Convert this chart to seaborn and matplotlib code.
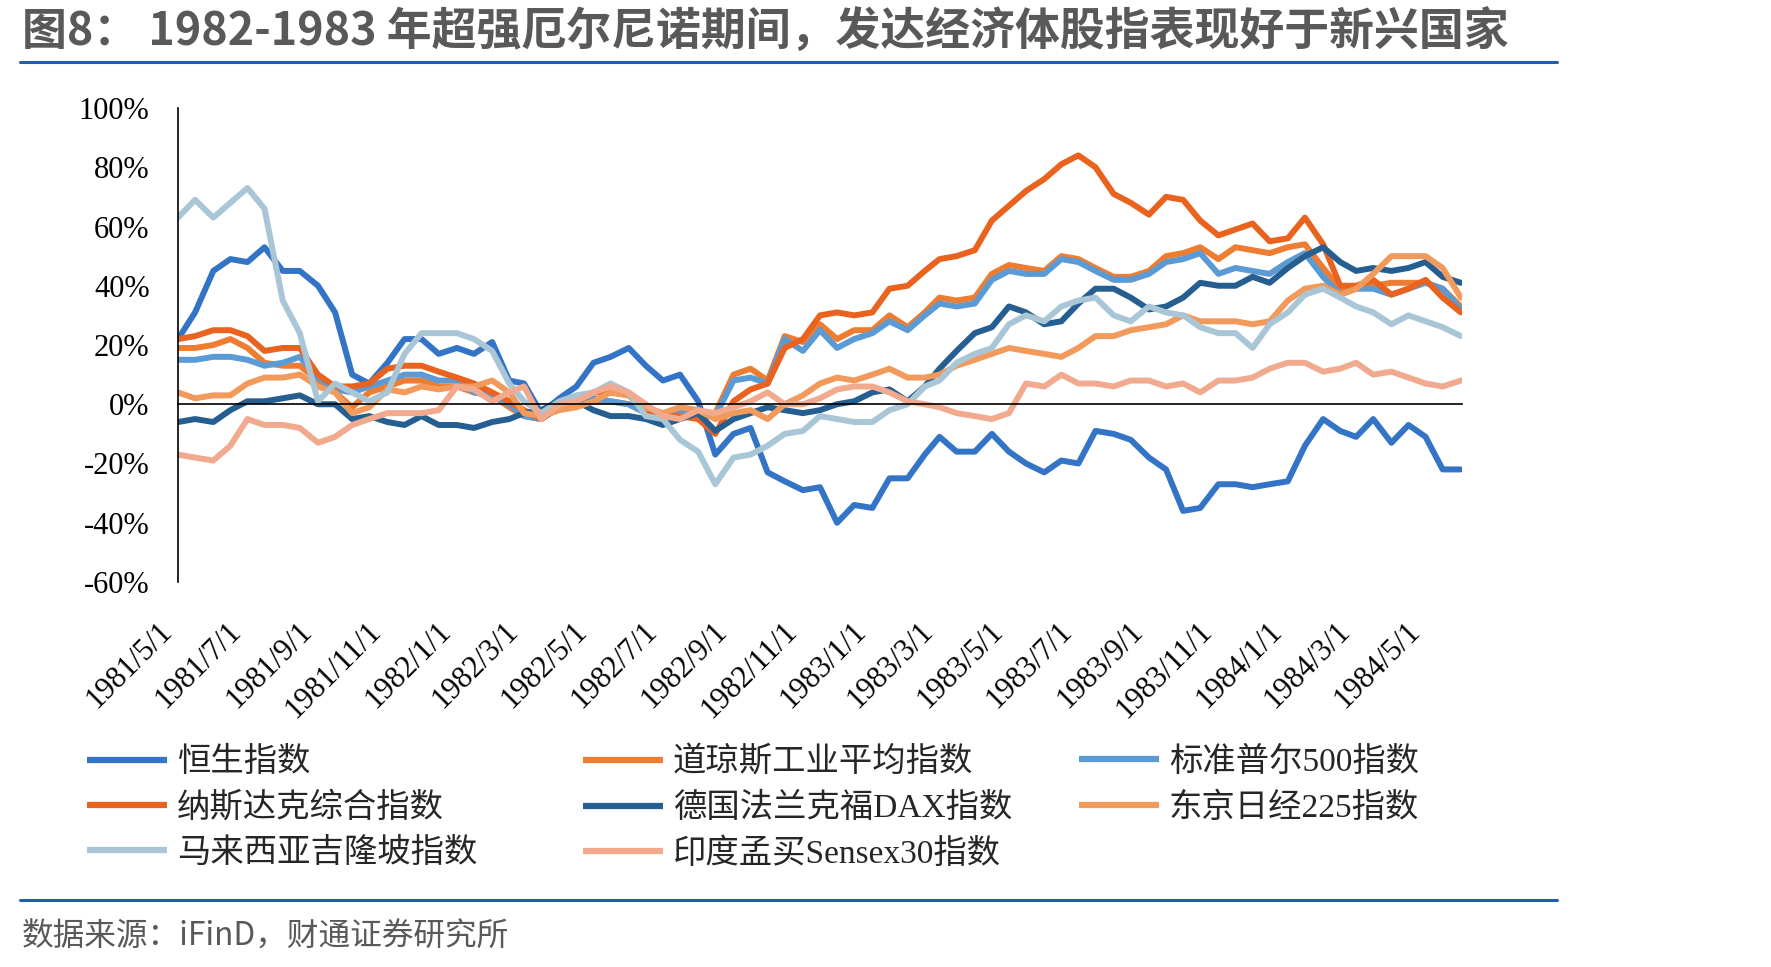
import numpy as np
import pandas as pd
import matplotlib
matplotlib.use("Agg")
import matplotlib.pyplot as plt
import matplotlib.dates as mdates
from matplotlib.lines import Line2D
import seaborn as sns

# ---------------- data (percent change) ----------------
# semi-monthly sampling grid: 1st and 16th of each month, 1981-05-01 .. 1984-06-01
grid_dates = []
for y in range(1981, 1985):
    for m in range(1, 13):
        for dd in (1, 16):
            ds = pd.Timestamp(year=y, month=m, day=dd)
            if pd.Timestamp("1981-05-01") <= ds <= pd.Timestamp("1984-06-01"):
                grid_dates.append(ds)

hang_seng = [22, 31, 45, 49, 48, 53, 45, 45, 40, 31, 10, 7, 14, 22, 22, 17, 19, 17, 21, 8, 7, -3, 2, 6, 14, 16,
             19, 13, 8, 10, 1, -17, -10, -8, -23, -26, -29, -28, -40, -34, -35, -25, -25, -17, -11, -16, -16, -10, -16, -20, -23,
             -19, -20, -9, -10, -12, -18, -22, -36, -35, -27, -27, -28, -27, -26, -14, -5, -9, -11, -5, -13, -7, -11, -22, -22]
dow_jones = [19, 19, 20, 22, 19, 14, 13, 13, 8, 4, -1, 4, 6, 8, 8, 6, 6, 4, 3, -1, -4, -5, -1, 0, 1, 1,
             0, -3, -4, -1, -3, -3, 10, 12, 8, 23, 21, 27, 22, 25, 25, 30, 26, 31, 36, 35, 36, 44, 47, 46, 45,
             50, 49, 46, 43, 43, 45, 50, 51, 53, 49, 53, 52, 51, 53, 54, 46, 39, 39, 40, 41, 41, 41, 39, 33]
sp500 = [15, 15, 16, 16, 15, 13, 14, 16, 9, 5, 4, 6, 8, 10, 10, 8, 8, 4, 3, 0, -4, -5, -1, 1, 2, 1,
         0, -3, -5, -2, -4, -4, 8, 9, 7, 22, 18, 25, 19, 22, 24, 28, 25, 30, 34, 33, 34, 42, 45, 44, 44,
         49, 48, 45, 42, 42, 44, 48, 49, 51, 44, 46, 45, 44, 48, 51, 43, 37, 39, 39, 37, 39, 41, 39, 32]
nasdaq = [22, 23, 25, 25, 23, 18, 19, 19, 10, 6, 6, 7, 12, 13, 13, 11, 9, 7, 4, 1, -2, -5, -1, 1, 4, 4,
          3, -2, -4, -4, -5, -10, 1, 5, 7, 19, 22, 30, 31, 30, 31, 39, 40, 45, 49, 50, 52, 62, 67, 72, 76,
          81, 84, 80, 71, 68, 64, 70, 69, 62, 57, 59, 61, 55, 56, 63, 54, 40, 40, 42, 37, 39, 42, 36, 31]
dax = [-6, -5, -6, -2, 1, 1, 2, 3, 0, 0, -5, -4, -6, -7, -4, -7, -7, -8, -6, -5, -3, -2, 1, 1, -2, -4,
       -4, -5, -7, -5, -3, -9, -5, -3, -1, -2, -3, -2, 0, 1, 4, 5, 1, 6, 12, 18, 24, 26, 33, 31, 27,
       28, 34, 39, 39, 36, 32, 33, 36, 41, 40, 40, 43, 41, 46, 50, 53, 48, 45, 46, 45, 46, 48, 43, 41]
nikkei = [4, 2, 3, 3, 7, 9, 9, 10, 6, 4, -3, -1, 5, 4, 6, 5, 6, 6, 8, 4, -3, -4, -2, -1, 1, 4,
          3, -1, -3, -1, -2, -5, -3, -2, -5, 0, 3, 7, 9, 8, 10, 12, 9, 9, 10, 13, 15, 17, 19, 18, 17,
          16, 19, 23, 23, 25, 26, 27, 30, 28, 28, 28, 27, 28, 35, 39, 40, 37, 39, 44, 50, 50, 50, 46, 36]
klci = [63, 69, 63, 68, 73, 66, 35, 24, 1, 7, 4, 1, 4, 17, 24, 24, 24, 22, 18, 7, 1, -3, 1, 3, 4, 7,
        4, -4, -5, -12, -16, -27, -18, -17, -14, -10, -9, -4, -5, -6, -6, -2, 0, 6, 8, 14, 17, 19, 27, 30, 28,
        33, 35, 36, 30, 28, 33, 31, 30, 26, 24, 24, 19, 27, 31, 37, 39, 36, 33, 31, 27, 30, 28, 26, 23]
sensex = [-17, -18, -19, -14, -5, -7, -7, -8, -13, -11, -7, -5, -3, -3, -3, -2, 6, 5, 1, 4, 6, -5, 0, 1, 4, 6,
          4, 0, -4, -5, -2, -3, -1, 1, 4, 0, 0, 2, 5, 6, 6, 4, 1, 0, -1, -3, -4, -5, -3, 7, 6,
          10, 7, 7, 6, 8, 8, 6, 7, 4, 8, 8, 9, 12, 14, 14, 11, 12, 14, 10, 11, 9, 7, 6, 8]

series_names = ["恒生指数", "道琼斯工业平均指数", "标准普尔500指数", "纳斯达克综合指数",
                "德国法兰克福DAX指数", "东京日经225指数", "马来西亚吉隆坡指数", "印度孟买Sensex30指数"]
series_values = [hang_seng, dow_jones, sp500, nasdaq, dax, nikkei, klci, sensex]
series_colors = ["#3374C6", "#EE7D31", "#5B9BD5", "#E9631F",
                 "#255E91", "#F29A5B", "#A9C6D6", "#F2AA8F"]

tick_dates = pd.date_range("1981-05-01", "1984-05-01", freq="2MS")
tick_labels = [f"{d.year}/{d.month}/{d.day}" for d in tick_dates]
y_ticks = [-60, -40, -20, 0, 20, 40, 60, 80, 100]

title_text = "图8： 1982-1983 年超强厄尔尼诺期间，发达经济体股指表现好于新兴国家"
source_text = "数据来源：iFinD，财通证券研究所"

# ---------------- build long frame ----------------
frames = []
for name, vals in zip(series_names, series_values):
    frames.append(pd.DataFrame({"date": grid_dates, "value": vals, "series": name}))
df = pd.concat(frames, ignore_index=True)

# ---------------- figure ----------------
sns.set_style("white")
plt.rcParams["font.family"] = ["Liberation Serif", "Noto Sans CJK SC", "DejaVu Sans"]
plt.rcParams["axes.unicode_minus"] = False

W, H = 1771, 967
fig = plt.figure(figsize=(W / 100, H / 100), dpi=100)
ax = fig.add_axes([178 / W, 1 - 582 / H, (1462 - 178) / W, (582 - 108) / H])

palette = dict(zip(series_names, series_colors))
sns.lineplot(data=df, x="date", y="value", hue="series", hue_order=series_names,
             palette=palette, linewidth=4.3, legend=False, ax=ax, estimator=None, sort=True)
for ln in ax.get_lines():
    ln.set_solid_joinstyle("round")
    ln.set_solid_capstyle("round")

ax.set_xlim(pd.Timestamp("1981-05-01"), pd.Timestamp("1984-06-02"))
ax.set_ylim(-60, 100)
ax.set_xlabel("")
ax.set_ylabel("")

for s in ["top", "right"]:
    ax.spines[s].set_visible(False)
ax.spines["bottom"].set_position(("data", 0))
for s in ["left", "bottom"]:
    ax.spines[s].set_color("black")
    ax.spines[s].set_linewidth(1.2)

ax.set_yticks(y_ticks)
ax.set_yticklabels([f"{v}%" for v in y_ticks], fontsize=22, family="Liberation Serif")
ax.tick_params(axis="y", direction="out", length=7.5, width=1.2, pad=13, colors="black")

ax.set_xticks(tick_dates)
ax.set_xticklabels(tick_labels, rotation=45, ha="right", va="top", fontsize=22,
                   family="Liberation Serif")
ax.tick_params(axis="x", direction="out", length=7, width=1.2, pad=146, colors="black")
ax.grid(False)

# ---------------- legend (3 columns, row-wise order) ----------------
handles = [Line2D([0], [0], color=c, lw=4.5, solid_capstyle="butt") for c in series_colors]
cols = [[0, 3, 6], [1, 4, 7], [2, 5]]
col_x = [87, 583, 1079]
for idxs, x0 in zip(cols, col_x):
    leg = fig.legend([handles[i] for i in idxs], [series_names[i] for i in idxs],
                     loc="upper left", bbox_to_anchor=(x0 / W, 1 - 747 / H),
                     bbox_transform=fig.transFigure, frameon=False, borderaxespad=0,
                     borderpad=0, handlelength=2.4, handletextpad=0.3, labelspacing=0.42,
                     prop={"family": ["Liberation Serif", "Noto Sans CJK SC"], "size": 24})

# ---------------- title, rules, source ----------------
fig.text(22 / W, 1 - 31.5 / H, title_text, ha="left", va="center", fontsize=32.3,
         fontweight="bold", color="#595959", family=["Noto Sans CJK SC", "DejaVu Sans"])
fig.add_artist(Line2D([20 / W, 1557 / W], [1 - 62 / H, 1 - 62 / H], color="#1F5EAE", lw=2.2))
fig.add_artist(Line2D([20 / W, 1557 / W], [1 - 900 / H, 1 - 900 / H], color="#1F5EAE", lw=2.2))
fig.text(22 / W, 1 - 937 / H, source_text, ha="left", va="center", fontsize=22.8,
         color="#595959", family=["Noto Sans CJK SC", "DejaVu Sans"])

fig.savefig("out.png", dpi=100)
